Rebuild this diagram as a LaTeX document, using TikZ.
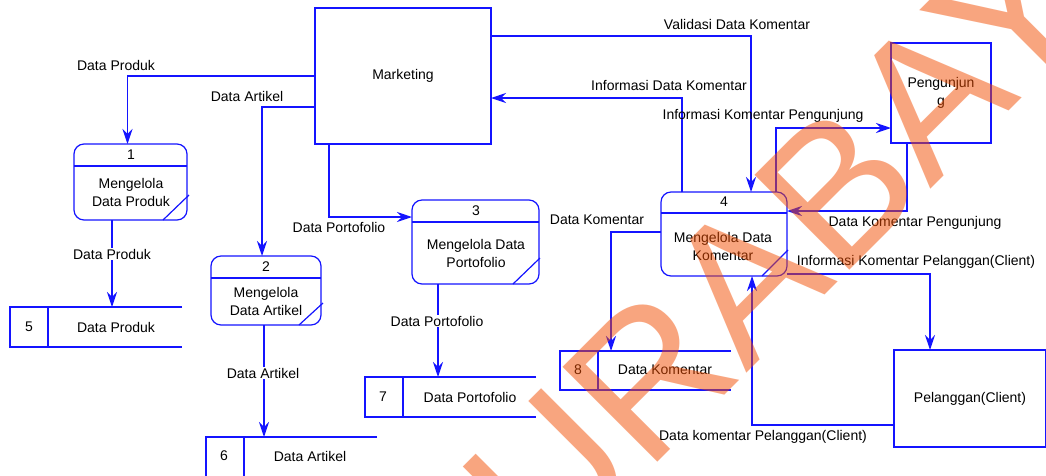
\documentclass[tikz,border=0pt]{standalone}
\usepackage{fontspec}
\setmainfont{Liberation Sans}
\usetikzlibrary{arrows.meta,calc}
\definecolor{dfdblue}{RGB}{20,20,255}
\definecolor{wmorange}{RGB}{243,77,0}
\newcommand\dfdfont{\fontsize{14}{18}\selectfont}
\begin{document}
\begin{tikzpicture}[x=1pt,y=-1pt,
  line/.style={draw=dfdblue, line width=1.2pt},
  flow/.style={line, -{Stealth[length=15pt,width=10pt,inset=5pt]}},
  ext/.style={draw=dfdblue, line width=1.2pt, rectangle, inner sep=0pt, outer sep=0pt, anchor=north west, font=\dfdfont},
  proc/.style={draw=dfdblue, line width=1.2pt, rectangle, rounded corners=10pt, inner sep=0pt, outer sep=0pt, anchor=north west},
  storebox/.style={rectangle, inner sep=0pt, outer sep=0pt, anchor=north west},
  txt/.style={inner sep=0pt, font=\dfdfont, align=center, text=black},
  lbl/.style={inner sep=1pt, font=\dfdfont, text=black},
  wlbl/.style={lbl, fill=white},
]
\useasboundingbox (0,0) rectangle (1046,475);
\fill[white] (0,0) rectangle (1046,475);

% external entities
\node[ext, minimum width=176pt, minimum height=136pt] (mkt) at (315,8) {Marketing};
\node[ext, minimum width=100pt, minimum height=100pt] (peng) at (891,43) {};
\node[txt] (pengt) at (941,93) {Pengunjun\\g};
\node[ext, minimum width=152pt, minimum height=97pt] (pel) at (894,350) {};
\node[txt] (pelt) at (970,399) {Pelanggan(Client)};

% processes
\node[proc, minimum width=113pt, minimum height=76pt] (p1) at (74,144) {};
\draw[line] ([yshift=-22pt]p1.north west) -- ([yshift=-22pt]p1.north east);
\draw[line] ([xshift=-24pt]p1.south east) -- ([xshift=2pt,yshift=25pt]p1.south east);
\node[txt] (p1n) at (131,155) {1};
\node[txt] (p1t) at (131,192) {Mengelola\\Data Produk};

\node[proc, minimum width=110pt, minimum height=69pt] (p2) at (211,256) {};
\draw[line] ([yshift=-22pt]p2.north west) -- ([yshift=-22pt]p2.north east);
\draw[line] ([xshift=-22pt]p2.south east) -- ([xshift=2pt,yshift=22pt]p2.south east);
\node[txt] (p2n) at (266,267) {2};
\node[txt] (p2t) at (266,301.5) {Mengelola\\Data Artikel};

\node[proc, minimum width=127pt, minimum height=84pt] (p3) at (412,200) {};
\draw[line] ([yshift=-22pt]p3.north west) -- ([yshift=-22pt]p3.north east);
\draw[line] ([xshift=-26pt]p3.south east) -- ([xshift=1pt,yshift=26pt]p3.south east);
\node[txt] (p3n) at (476,211) {3};
\node[txt] (p3t) at (476,253) {Mengelola Data\\Portofolio};

\node[proc, minimum width=126pt, minimum height=84pt] (p4) at (661,192) {};
\draw[line] ([yshift=-21pt]p4.north west) -- ([yshift=-21pt]p4.north east);
\draw[line] ([xshift=-25pt]p4.south east) -- ([xshift=1pt,yshift=26pt]p4.south east);
\node[txt] (p4n) at (724,202) {4};
\node[txt] (p4t) at (723,246) {Mengelola Data\\Komentar};

% data stores
\node[storebox, minimum width=172pt, minimum height=40pt] (s5) at (10,307) {};
\draw[line] (s5.north east) -- (s5.north west) -- (s5.south west) -- (s5.south east);
\draw[line] ([xshift=38pt]s5.north west) -- ([xshift=38pt]s5.south west);
\node[txt] (s5n) at (29,327) {5};
\node[txt] (s5t) at (116,327) {Data Produk};

\node[storebox, minimum width=171pt, minimum height=40pt] (s6) at (206,437) {};
\draw[line] (s6.north east) -- (s6.north west) -- (s6.south west) -- (s6.south east);
\draw[line] ([xshift=38pt]s6.north west) -- ([xshift=38pt]s6.south west);
\node[txt] (s6n) at (224,456) {6};
\node[txt] (s6t) at (310,456) {Data Artikel};

\node[storebox, minimum width=171pt, minimum height=40pt] (s7) at (365,377) {};
\draw[line] (s7.north east) -- (s7.north west) -- (s7.south west) -- (s7.south east);
\draw[line] ([xshift=38pt]s7.north west) -- ([xshift=38pt]s7.south west);
\node[txt] (s7n) at (383,397) {7};
\node[txt] (s7t) at (470,397) {Data Portofolio};

\node[storebox, minimum width=171pt, minimum height=39pt] (s8) at (560,351) {};
\draw[line] (s8.north east) -- (s8.north west) -- (s8.south west) -- (s8.south east);
\draw[line] ([xshift=38pt]s8.north west) -- ([xshift=38pt]s8.south west);
\node[txt] (s8n) at (578,370) {8};
\node[txt] (s8t) at (665,370) {Data Komentar};

% flows
\draw[flow] (mkt.west) -| ([xshift=-3pt]p1.north);
\draw[flow] ([yshift=-31pt]mkt.west) -| ([xshift=-4pt]p2.north);
\draw[flow] ([xshift=14pt]mkt.south west) |- ([yshift=-17pt]p3.north west);
\draw[flow] ([yshift=-28pt]mkt.north east) -| ([xshift=27pt]p4.north);
\draw[flow] ([xshift=-42pt]p4.north) |- ([yshift=-90pt]mkt.north east);
\draw[flow] ([xshift=52pt]p4.north) |- ([yshift=15pt]peng.south west);
\draw[flow] ([xshift=16pt]peng.south west) |- ([yshift=-19pt]p4.north east);
\draw[flow] ([yshift=-40pt]p4.north west) -| ([xshift=51pt]s8.north west);
\draw[flow] ([yshift=2pt]p4.south east) -| ([xshift=36pt]pel.north west);
\draw[flow] ([yshift=-75pt]pel.north west) -| ([xshift=28pt]p4.south);
\coordinate (a5) at ([xshift=-18.5pt]p1.south);
\draw[flow] (a5) -- (a5 |- s5.north);
\coordinate (a6) at ([xshift=-2pt]p2.south);
\draw[flow] (a6) -- (a6 |- s6.north);
\coordinate (a7) at ([xshift=-37.5pt]p3.south);
\draw[flow] (a7) -- (a7 |- s7.north);

% flow labels
\node[lbl] (l1) at (116,65) {Data Produk};
\node[lbl] (l2) at (247,96) {Data Artikel};
\node[lbl] (l3) at (339,227) {Data Portofolio};
\node[lbl] (l4) at (737,24) {Validasi Data Komentar};
\node[lbl] (l5) at (669,85) {Informasi Data Komentar};
\node[lbl] (l6) at (763,116) {Informasi Komentar Pengunjung};
\node[lbl] (l7) at (915,223) {Data Komentar Pengunjung};
\node[lbl] (l8) at (597,220) {Data Komentar};
\node[lbl] (l9) at (916,262) {Informasi Komentar Pelanggan(Client)};
\node[lbl] (l10) at (763,437) {Data komentar Pelanggan(Client)};
\node[wlbl] (l11) at (112,254) {Data Produk};
\node[wlbl] (l12) at (263,373) {Data Artikel};
\node[wlbl] (l13) at (437,321) {Data Portofolio};

% watermark
\begin{scope}
\clip (0,0) rectangle (1046,475);
\node[rotate=45, anchor=base west, inner sep=0pt, text=wmorange, text opacity=0.5,
      font=\fontsize{195}{195}\selectfont] (wm) at (455,665) {SURABAYA};
\end{scope}
\end{tikzpicture}
\end{document}
